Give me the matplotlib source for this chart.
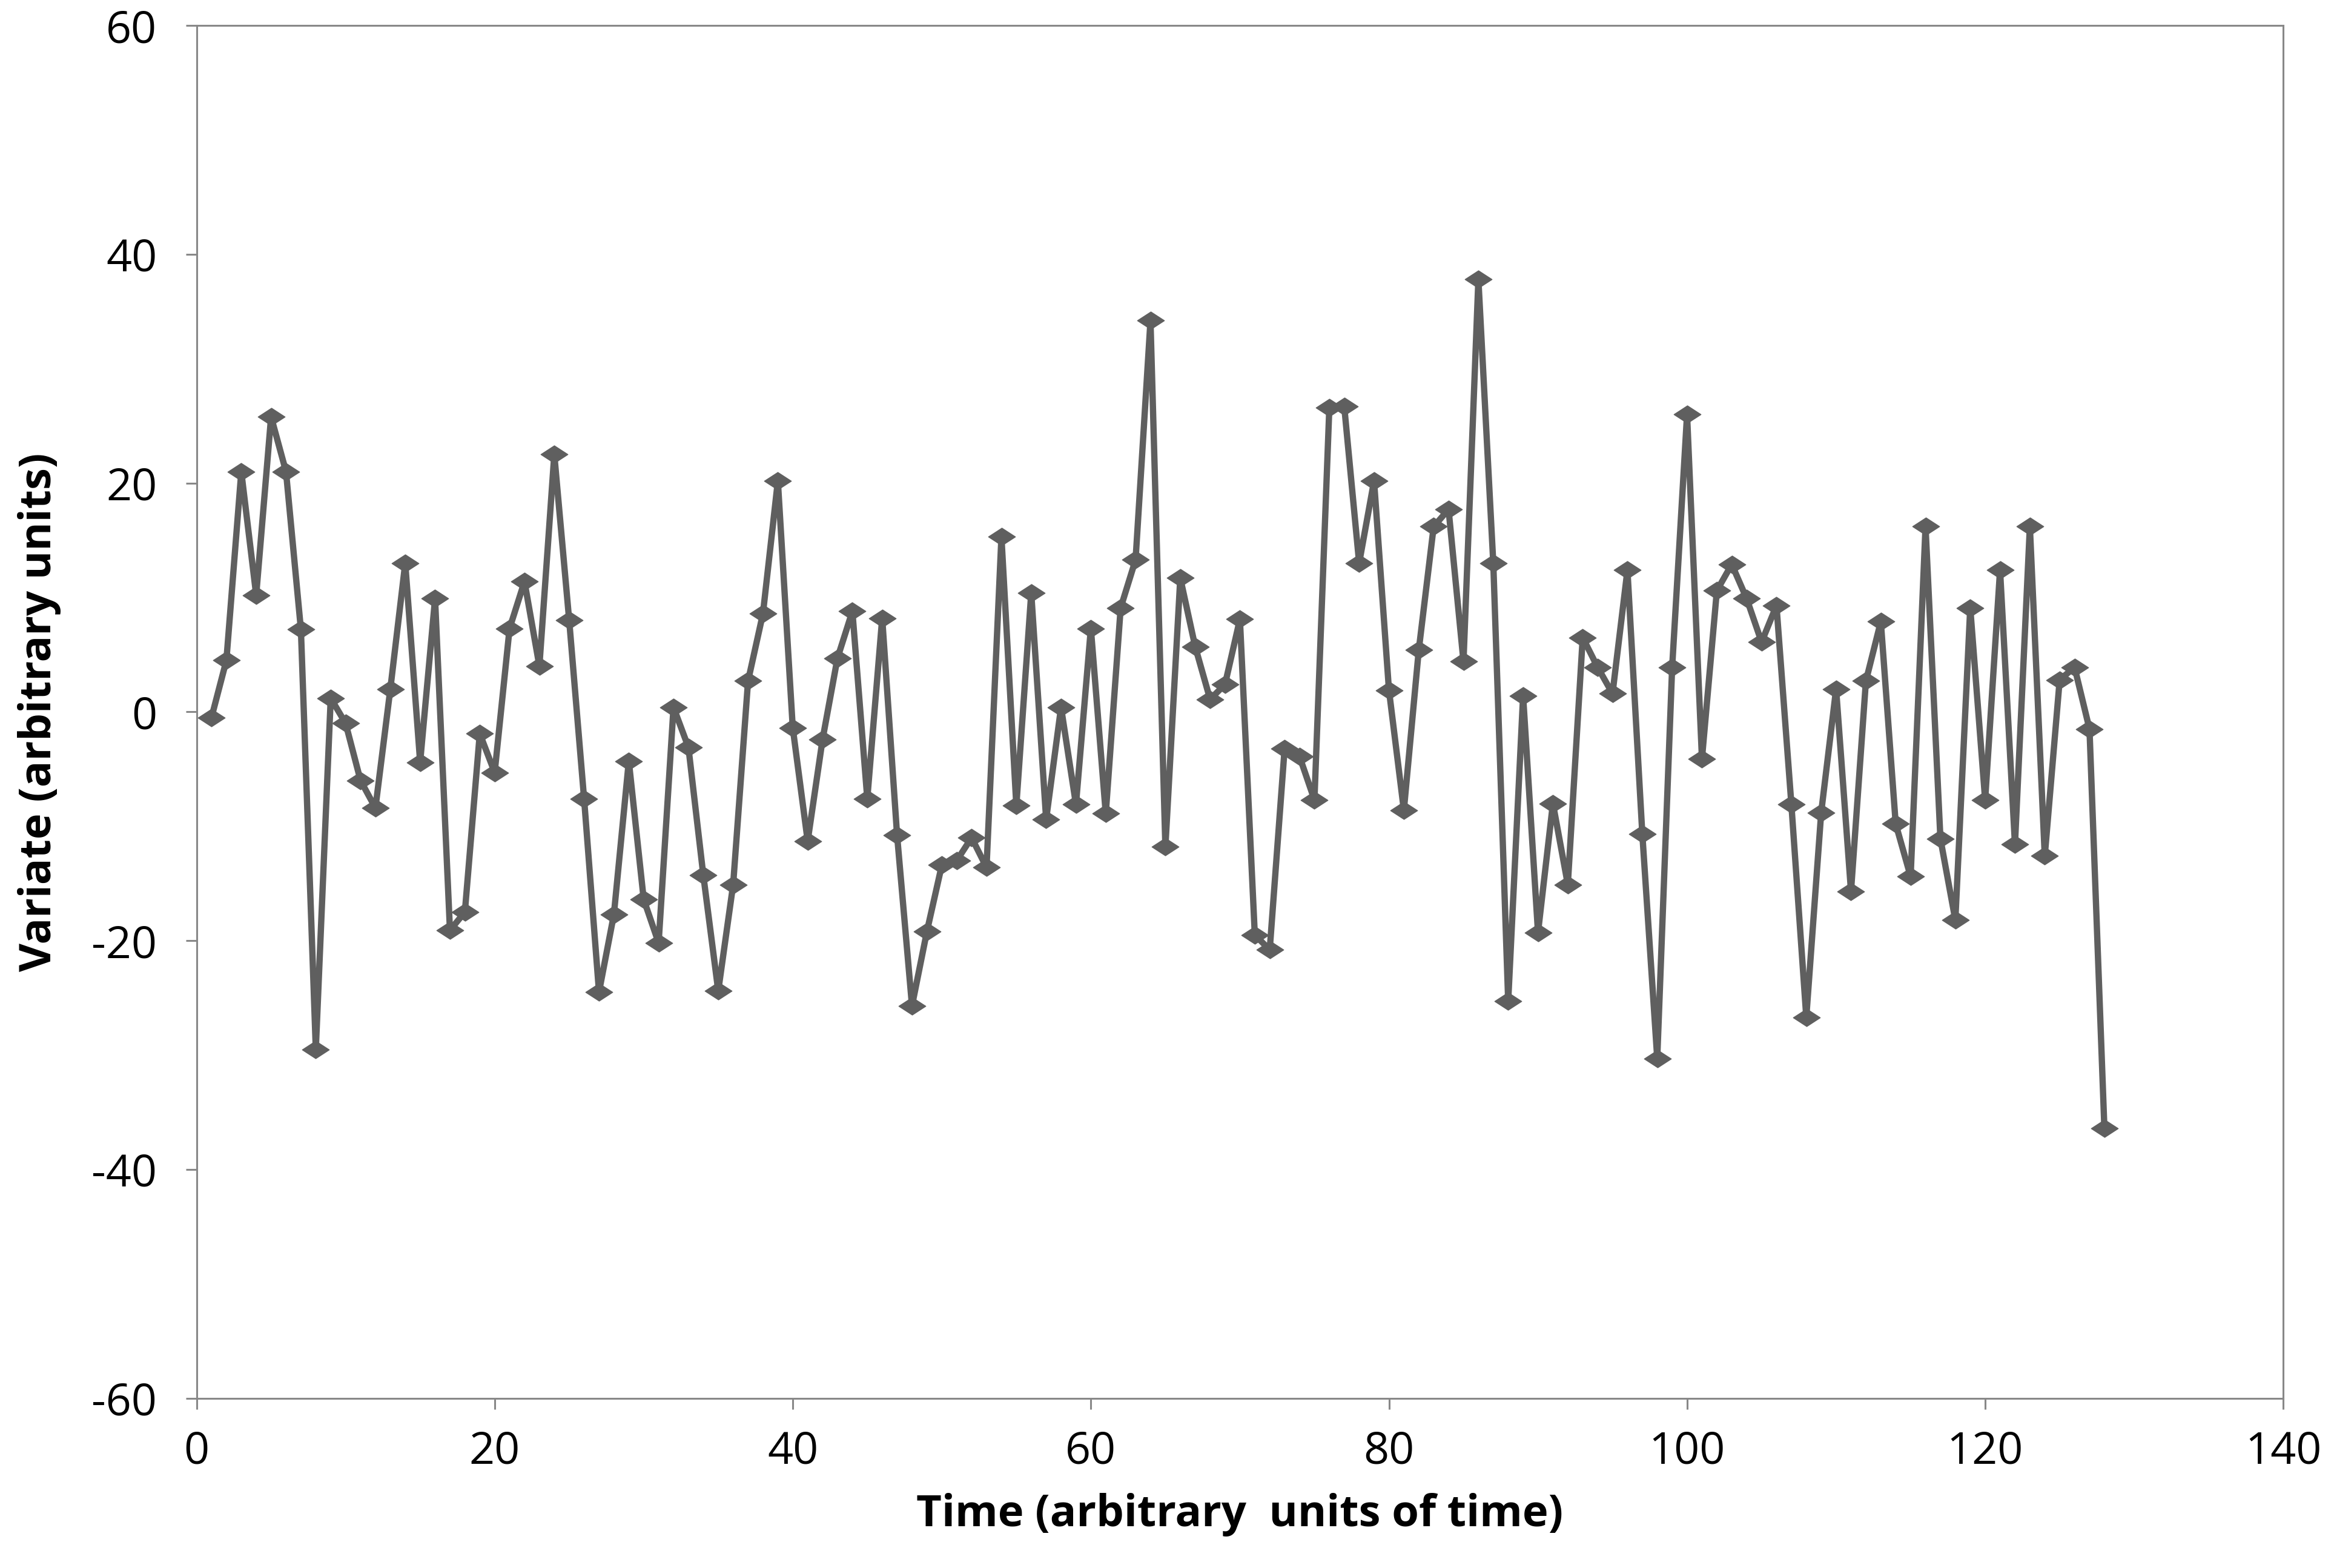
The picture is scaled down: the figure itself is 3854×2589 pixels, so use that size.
import numpy as np
import matplotlib
matplotlib.use("Agg")
from matplotlib import pyplot as plt
from matplotlib.path import Path

# time index and variate
time = np.arange(1, 129)
variate = [
    -0.5, 4.5, 21.0, 10.2, 25.8, 21.0, 7.2, -29.5, 1.2, -1.0,
    -6.0, -8.4, 2.0, 13.0, -4.4, 9.9, -19.1, -17.5, -1.9, -5.3,
    7.3, 11.4, 4.0, 22.5, 8.0, -7.6, -24.5, -17.7, -4.3, -16.4,
    -20.2, 0.4, -3.1, -14.3, -24.4, -15.1, 2.7, 8.6, 20.2, -1.4,
    -11.3, -2.4, 4.7, 8.8, -7.6, 8.2, -10.8, -25.7, -19.2, -13.4,
    -13.0, -11.0, -13.6, 15.3, -8.2, 10.4, -9.4, 0.4, -8.1, 7.3,
    -8.9, 9.1, 13.3, 34.2, -11.8, 11.7, 5.7, 1.1, 2.4, 8.1,
    -19.5, -20.8, -3.2, -3.9, -7.7, 26.6, 26.7, 13.0, 20.2, 1.9,
    -8.6, 5.4, 16.2, 17.7, 4.4, 37.8, 13.0, -25.3, 1.4, -19.3,
    -8.0, -15.1, 6.5, 3.9, 1.6, 12.4, -10.7, -30.3, 3.9, 26.0,
    -4.1, 10.6, 12.9, 9.9, 6.1, 9.3, -8.1, -26.7, -8.8, 2.0,
    -15.7, 2.7, 7.9, -9.8, -14.4, 16.2, -11.1, -18.2, 9.1, -7.7,
    12.4, -11.6, 16.2, -12.6, 2.8, 3.9, -1.5, -36.4,
]
xticks = np.arange(0, 141, 20)
yticks = np.arange(-60, 61, 20)

plt.rcParams['font.family'] = ['Open Sans', 'DejaVu Sans']
plt.rcParams['axes.unicode_minus'] = False

# flat diamond like the Excel marker
flat_diamond = Path([(-1, 0), (0, 0.65), (1, 0), (0, -0.65), (-1, 0)],
                    [Path.MOVETO, Path.LINETO, Path.LINETO, Path.LINETO, Path.CLOSEPOLY])

fig = plt.figure(figsize=(38.55, 25.89), dpi=100)
ax = fig.add_axes([0.0842, 0.1083, 0.8938, 0.8754])
ax.plot(time, variate, color='#5f5f5f', linewidth=7.5,
        marker=flat_diamond, markersize=32, markerfacecolor='#5f5f5f',
        markeredgecolor='#5f5f5f')

ax.set_xlim(0, 140)
ax.set_ylim(-60, 60)
ax.set_xticks(xticks)
ax.set_yticks(yticks)
for s in ax.spines.values():
    s.set_color('#888888')
    s.set_linewidth(2.2)
ax.tick_params(direction='out', length=13, width=2.2, color='#888888',
               labelsize=53)
ax.tick_params(axis='x', pad=24)
ax.tick_params(axis='y', pad=34)
ax.set_xlabel('Time (arbitrary  units of time)', fontsize=52, fontweight='bold', labelpad=22)
ax.set_ylabel('Variate (arbitrary units)', fontsize=52, fontweight='bold', labelpad=36)

fig.savefig('out.png', dpi=100)
